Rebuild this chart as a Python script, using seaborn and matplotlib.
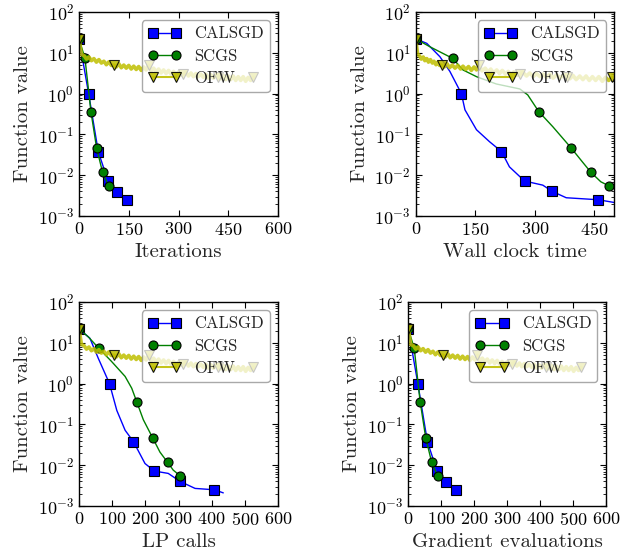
import numpy as np
import matplotlib
matplotlib.use("Agg")
import matplotlib.pyplot as plt
from matplotlib.lines import Line2D
import seaborn as sns

# ---------------- data ----------------
# CALSGD
cal_it = [0, 29, 58, 87, 116, 145, 150]
cal_it_val = [22, 1.0, 0.038, 0.0074, 0.0039, 0.0025, 0.0021]
cal_it_marks = [0, 1, 2, 3, 4, 5]

cal_time = [0, 28, 61, 86, 115, 124, 153, 186, 216, 236, 274, 320, 344, 379, 460, 505]
cal_time_val = [22, 17, 8.0, 3.5, 1.0, 0.4, 0.13, 0.066, 0.038, 0.016, 0.0072,
                0.0057, 0.0040, 0.0028, 0.0025, 0.0021]
cal_time_marks = [0, 4, 8, 10, 12, 14]

cal_lp = [0, 33, 58, 92, 114, 139, 164, 199, 227, 269, 305, 350, 408, 435]
cal_lp_val = [22, 12.9, 4.2, 1.0, 0.22, 0.072, 0.038, 0.011, 0.0072, 0.0063,
              0.0040, 0.0027, 0.0025, 0.0021]
cal_lp_marks = [0, 3, 6, 8, 10, 12]

# SCGS
scg_it = [0, 18, 36, 53, 71, 89]
scg_it_val = [22, 7.3, 0.36, 0.047, 0.0118, 0.0055]
scg_it_marks = [0, 1, 2, 3, 4, 5]

scg_time = [0, 36, 93, 119, 153, 203, 262, 282, 310, 345, 391, 420, 441, 466, 486, 505]
scg_time_val = [22, 14, 7.3, 3.8, 2.6, 1.72, 1.3, 0.93, 0.36, 0.155, 0.047,
                0.021, 0.0118, 0.0069, 0.0055, 0.0045]
scg_time_marks = [0, 2, 8, 10, 12, 14]

scg_lp = [0, 28, 60, 98, 139, 159, 174, 194, 222, 244, 267, 284, 305]
scg_lp_val = [22, 14, 7.3, 3.5, 1.5, 0.77, 0.36, 0.13, 0.047, 0.021, 0.0118, 0.0076, 0.0055]
scg_lp_marks = [0, 2, 6, 8, 10, 12]

# OFW (noisy curve, one sample every 7.5 iterations)
ofw_it = [0, 7.5, 15, 22.5, 30, 37.5, 45, 52.5, 60, 67.5, 75, 82.5, 90, 97.5,
          105, 112.5, 120, 127.5, 135, 142.5, 150, 157.5, 165, 172.5, 180, 187.5,
          195, 202.5, 210, 217.5, 225, 232.5, 240, 247.5, 255, 262.5, 270, 277.5,
          285, 292.5, 300, 307.5, 315, 322.5, 330, 337.5, 345, 352.5, 360, 367.5,
          375, 382.5, 390, 397.5, 405, 412.5, 420, 427.5, 435, 442.5, 450, 457.5,
          465, 472.5, 480, 487.5, 495, 502.5, 510, 517.5, 525]
ofw_time = [0, 5, 9, 14, 19, 23, 28, 32, 37, 42, 46, 51, 56, 60, 65,
            72, 79, 85, 92, 99, 106, 113, 119, 126, 133, 140, 147, 153, 160,
            167, 175, 182, 189, 196, 204, 211, 218, 226, 233, 240, 247, 255, 262,
            270, 279, 287, 296, 304, 313, 321, 329, 338, 346, 355, 363, 372, 380,
            388, 396, 404, 413, 421, 429, 437, 445, 453, 461, 470, 478, 486, 494]
ofw_val = [22, 9.0, 8.6, 7.0, 7.9, 6.4, 7.2, 5.9, 6.8, 5.6, 6.2, 5.1, 6.0, 4.9,
           5.0, 4.5, 5.4, 4.3, 5.0, 4.2, 4.9, 4.0, 4.7, 3.9, 4.6, 3.7, 4.5, 3.8,
           4.9, 3.6, 4.2, 3.4, 4.0, 3.2, 3.8, 3.1, 3.7, 3.0, 3.5, 2.9, 3.4, 2.8,
           3.0, 3.3, 2.7, 3.2, 2.6, 3.1, 2.6, 3.0, 2.5, 3.0, 2.4, 2.9, 2.4, 2.8,
           2.6, 2.3, 2.8, 2.2, 2.7, 2.2, 2.7, 2.1, 2.6, 2.1, 2.6, 2.0, 2.5, 2.1, 2.5]
ofw_marks = [0, 14, 28, 42, 56, 70]

# ---------------- style ----------------
sns.set_style("ticks")
plt.rcParams.update({
    "font.family": "serif",
    "font.serif": ["cmr10", "DejaVu Serif"],
    "mathtext.fontset": "cm",
    "axes.formatter.use_mathtext": True,
    "axes.unicode_minus": False,
    "xtick.direction": "in",
    "ytick.direction": "in",
    "xtick.top": True,
    "ytick.right": True,
    "xtick.major.size": 4,
    "ytick.major.size": 4,
    "ytick.minor.size": 2,
    "xtick.major.width": 0.8,
    "ytick.major.width": 0.8,
    "ytick.minor.width": 0.6,
    "axes.edgecolor": "black",
    "axes.linewidth": 1.0,
    "xtick.color": "black",
    "ytick.color": "black",
    "xtick.labelsize": 13,
    "ytick.labelsize": 13,
    "axes.labelsize": 15,
})

BLUE = (0, 0, 1)
GREEN = (0, 0.5, 0)
YELLOW = (0.75, 0.75, 0)

fig = plt.figure(figsize=(6.34, 5.6), dpi=100)
ax1 = fig.add_axes([0.1246, 0.6143, 0.3139, 0.3643])
ax2 = fig.add_axes([0.6557, 0.6143, 0.3132, 0.3643])
ax3 = fig.add_axes([0.1246, 0.0964, 0.3139, 0.3643])
ax4 = fig.add_axes([0.6440, 0.0964, 0.3114, 0.3643])


def draw(ax, x, y, color, marker, marks, alpha=1.0, lw=1.0):
    sns.lineplot(x=x, y=y, ax=ax, color=color, lw=lw, marker=marker,
                 markevery=marks, ms=6.5, mec="k", mew=0.8, mfc=color,
                 alpha=alpha, estimator=None, sort=False)


panels = [
    (ax1, "Iterations", (cal_it, cal_it_val, cal_it_marks),
     (scg_it, scg_it_val, scg_it_marks), ofw_it, [0, 150, 300, 450, 600], 600),
    (ax2, "Wall clock time", (cal_time, cal_time_val, cal_time_marks),
     (scg_time, scg_time_val, scg_time_marks), ofw_time, [0, 150, 300, 450], 500),
    (ax3, "LP calls", (cal_lp, cal_lp_val, cal_lp_marks),
     (scg_lp, scg_lp_val, scg_lp_marks), ofw_it, [0, 100, 200, 300, 400, 500, 600], 600),
    (ax4, "Gradient evaluations", (cal_it, cal_it_val, cal_it_marks),
     (scg_it, scg_it_val, scg_it_marks), ofw_it, [0, 100, 200, 300, 400, 500, 600], 600),
]

handles = [
    Line2D([], [], color=BLUE, lw=1, marker="s", ms=6.5, mec="k", mew=0.8),
    Line2D([], [], color=GREEN, lw=1, marker="o", ms=6.5, mec="k", mew=0.8),
    Line2D([], [], color=YELLOW, lw=1.5, marker="v", ms=6.5, mec="k", mew=0.8, alpha=0.9),
]
labels = ["CALSGD", "SCGS", "OFW"]

for ax, xlab, cal, scg, ofw_x, ticks, xmax in panels:
    ax.set_yscale("log")
    draw(ax, cal[0], cal[1], BLUE, "s", cal[2])
    draw(ax, scg[0], scg[1], GREEN, "o", scg[2])
    draw(ax, ofw_x, ofw_val, YELLOW, "v", ofw_marks, alpha=0.85, lw=2.6)
    ax.set_xlim(0, xmax)
    ax.set_ylim(1e-3, 1e2)
    ax.set_xticks(ticks)
    ax.set_xlabel(xlab)
    ax.set_ylabel("Function value")
    ax.tick_params(which="both", direction="in", top=True, right=True)
    ax.legend(handles, labels, loc="upper right", numpoints=2, fontsize=12,
              handlelength=2.0, handletextpad=0.8, borderaxespad=0.5,
              borderpad=0.35, fancybox=True, framealpha=0.75, edgecolor="0.55",
              labelspacing=0.42)

fig.savefig("out.png", dpi=100)
